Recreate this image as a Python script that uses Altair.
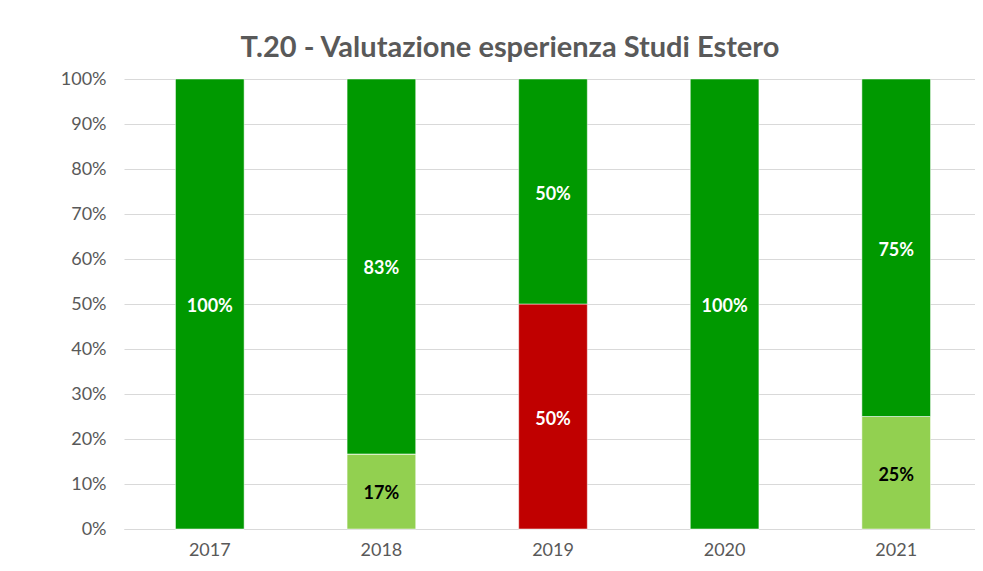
import altair as alt
import pandas as pd

years = ["2017", "2018", "2019", "2020", "2021"]
series = ["Abbastanza soddisfatto", "Insoddisfatto", "Molto soddisfatto"]
abbastanza = [0.0, 0.1667, 0.0, 0.0, 0.25]
insoddisfatto = [0.0, 0.0, 0.5, 0.0, 0.0]
molto = [1.0, 0.8333, 0.5, 1.0, 0.75]
colors = ["#92D050", "#C00000", "#009900"]
label_colors = ["#000000", "#FFFFFF", "#FFFFFF"]

rows = []
for i, y in enumerate(years):
    for k, (s, vals) in enumerate(zip(series, [abbastanza, insoddisfatto, molto])):
        rows.append({"anno": y, "serie": s, "ordine": k, "valore": vals[i]})
df = pd.DataFrame(rows)

FONT = "Lato"

base = alt.Chart(df).transform_stack(
    stack="valore", groupby=["anno"], as_=["y0", "y1"],
    sort=[alt.SortField("ordine", order="ascending")]
).transform_calculate(mid="(datum.y0 + datum.y1) / 2")

xenc = alt.X("anno:N", title=None,
             scale=alt.Scale(paddingInner=0.6, paddingOuter=0.3),
             axis=alt.Axis(labelAngle=0, labelFontSize=18, labelColor="#595959",
                           labelFont=FONT, ticks=False, domainColor="#D9D9D9",
                           domainWidth=1, labelPadding=12))

bars = base.mark_bar(stroke="#FFFFFF", strokeWidth=0.5).encode(
    x=xenc,
    y=alt.Y("y0:Q", title=None,
            scale=alt.Scale(domain=[0, 1], nice=False),
            axis=alt.Axis(format=".0%", values=[i / 10 for i in range(11)],
                          labelFontSize=18, labelColor="#595959", labelFont=FONT,
                          ticks=False, domain=False, gridColor="#D9D9D9",
                          gridWidth=1, labelPadding=18)),
    y2="y1:Q",
    color=alt.Color("serie:N", scale=alt.Scale(domain=series, range=colors), legend=None),
)

labels = base.transform_filter("datum.valore > 0").mark_text(
    font=FONT, fontSize=18, fontWeight="bold", dy=3
).encode(
    x=alt.X("anno:N"),
    y=alt.Y("mid:Q"),
    text=alt.Text("valore:Q", format=".0%"),
    color=alt.Color("serie:N", scale=alt.Scale(domain=series, range=label_colors), legend=None),
)

chart = alt.layer(bars, labels).resolve_scale(color="independent").properties(
    width=858, height=450,
    title=alt.TitleParams("T.20 - Valutazione esperienza Studi Estero",
                          font=FONT, fontSize=29, fontWeight="bold", color="#595959",
                          anchor="middle", dx=-43, offset=7),
    autosize=alt.AutoSizeParams(type="none"),
    padding={"left": 116, "top": 71, "right": -7, "bottom": 32},
).configure_view(stroke=None)

chart.save("out.html", embed_options={"renderer": "svg", "actions": False})
